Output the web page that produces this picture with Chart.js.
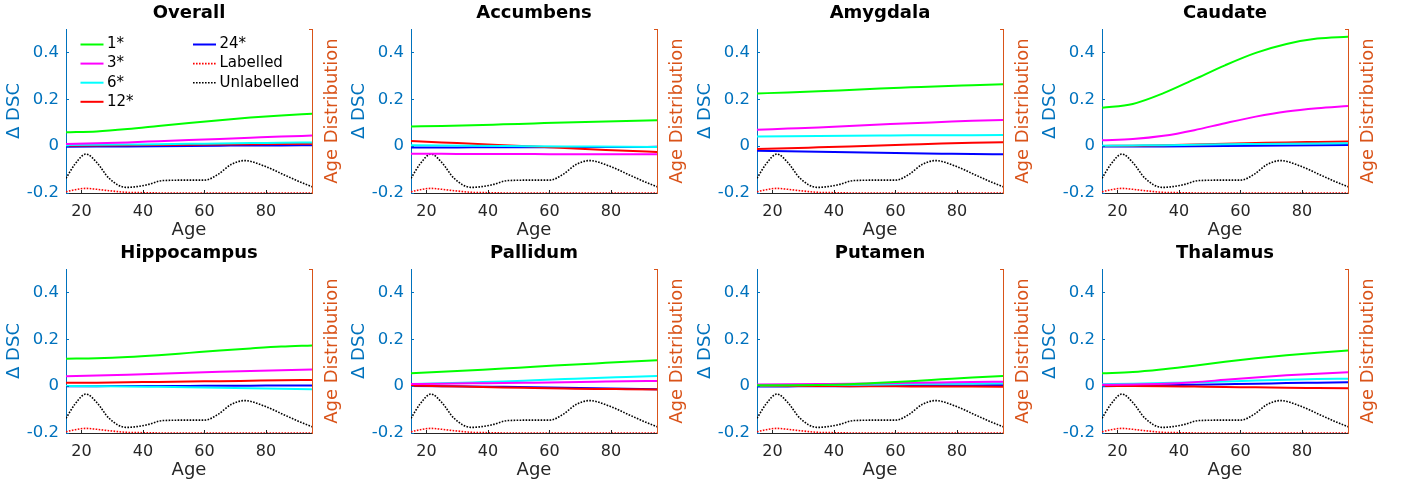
<!DOCTYPE html>
<html>
<head>
<meta charset="utf-8">
<script src="https://cdn.jsdelivr.net/npm/chart.js@4/dist/chart.umd.min.js"></script>
<style>
  body { margin: 0; background: #fff; }
  #grid { position: relative; width: 1403px; height: 485px; }
  #grid canvas { position: absolute; }
</style>
</head>
<body>
<div id="grid"></div>
<script>
// ages where the fitted DSC-difference curves are sampled
const ages = [15, 25, 35, 45, 55, 65, 75, 85, 95];
const ageTicks = [20, 40, 60, 80];
const dscTicks = [-0.2, 0, 0.2, 0.4];

// age distribution of the training sets (kernel density estimates)
const densityAges = [15, 18, 21.5, 25, 29, 34.5, 41, 46.5, 54, 60, 64.5, 68.5, 73, 79.5, 86, 91, 95];
const labelledDensity = [0.0009, 0.0024, 0.0034, 0.0027, 0.0017, 0.0005, 0.0002, 0, 0, 0, 0, 0, 0, 0, 0, 0, 0];
const unlabelledDensity = [0.0108, 0.0214, 0.0285, 0.0223, 0.0108, 0.0041, 0.0058, 0.0091, 0.0094, 0.0094, 0.0137, 0.0206, 0.0237, 0.0197, 0.0132, 0.0082, 0.0046];

const models = ['1*', '3*', '6*', '12*', '24*'];
const modelColors = ['#00ff00', '#ff00ff', '#00ffff', '#ff0000', '#0000ff'];
const regions = ['Overall', 'Accumbens', 'Amygdala', 'Caudate', 'Hippocampus', 'Pallidum', 'Putamen', 'Thalamus'];

// one row per model (1*, 3*, 6*, 12*, 24*), one value per entry of ages
const overall = [
  [0.059, 0.063, 0.073, 0.086, 0.099, 0.111, 0.122, 0.131, 0.138],
  [0.009, 0.012, 0.016, 0.021, 0.026, 0.031, 0.036, 0.041, 0.045],
  [0.005, 0.006, 0.007, 0.008, 0.010, 0.011, 0.013, 0.014, 0.016],
  [0.002, 0.003, 0.004, 0.005, 0.006, 0.007, 0.008, 0.009, 0.010],
  [-0.003, -0.002, -0.001, 0.000, 0.001, 0.002, 0.003, 0.003, 0.004]
];
const accumbens = [
  [0.084, 0.086, 0.089, 0.093, 0.097, 0.101, 0.104, 0.107, 0.110],
  [-0.033, -0.033, -0.034, -0.034, -0.034, -0.035, -0.035, -0.035, -0.035],
  [0.004, 0.003, 0.002, 0.001, 0.000, -0.001, -0.002, -0.003, -0.004],
  [0.022, 0.016, 0.010, 0.004, -0.002, -0.008, -0.014, -0.020, -0.025],
  [-0.006, -0.006, -0.005, -0.005, -0.005, -0.004, -0.004, -0.004, -0.003]
];
const amygdala = [
  [0.225, 0.229, 0.234, 0.240, 0.246, 0.251, 0.256, 0.260, 0.264],
  [0.070, 0.075, 0.080, 0.086, 0.092, 0.098, 0.103, 0.108, 0.112],
  [0.041, 0.042, 0.043, 0.044, 0.045, 0.046, 0.046, 0.047, 0.048],
  [-0.012, -0.009, -0.005, -0.001, 0.003, 0.007, 0.011, 0.014, 0.017],
  [-0.020, -0.022, -0.024, -0.026, -0.028, -0.030, -0.032, -0.034, -0.035]
];
const caudate = [
  [0.164, 0.180, 0.226, 0.285, 0.345, 0.398, 0.436, 0.459, 0.467],
  [0.025, 0.030, 0.044, 0.068, 0.098, 0.126, 0.148, 0.162, 0.171],
  [0.002, 0.003, 0.004, 0.006, 0.008, 0.009, 0.010, 0.011, 0.012],
  [0.001, 0.002, 0.004, 0.007, 0.010, 0.013, 0.016, 0.018, 0.020],
  [-0.002, -0.002, -0.001, 0.000, 0.001, 0.002, 0.003, 0.004, 0.005]
];
const hippocampus = [
  [0.117, 0.119, 0.124, 0.132, 0.142, 0.152, 0.161, 0.169, 0.174],
  [0.042, 0.045, 0.049, 0.053, 0.057, 0.061, 0.065, 0.068, 0.071],
  [0.001, 0.000, -0.001, -0.003, -0.005, -0.007, -0.009, -0.011, -0.013],
  [0.014, 0.015, 0.017, 0.018, 0.020, 0.021, 0.023, 0.025, 0.026],
  [0.000, 0.000, 0.001, 0.001, 0.001, 0.002, 0.002, 0.003, 0.003]
];
const pallidum = [
  [0.055, 0.061, 0.068, 0.075, 0.083, 0.090, 0.097, 0.104, 0.110],
  [0.009, 0.010, 0.012, 0.013, 0.015, 0.017, 0.019, 0.021, 0.022],
  [0.009, 0.012, 0.016, 0.020, 0.025, 0.030, 0.035, 0.039, 0.043],
  [0.002, 0.000, -0.003, -0.006, -0.008, -0.010, -0.012, -0.013, -0.014],
  [0.001, 0.000, -0.001, -0.003, -0.005, -0.007, -0.009, -0.011, -0.013]
];
const putamen = [
  [0.004, 0.004, 0.005, 0.008, 0.014, 0.021, 0.029, 0.037, 0.043],
  [0.007, 0.008, 0.009, 0.010, 0.012, 0.014, 0.016, 0.018, 0.019],
  [0.003, 0.004, 0.005, 0.006, 0.007, 0.009, 0.010, 0.011, 0.012],
  [0.001, 0.001, 0.001, 0.000, 0.000, -0.001, -0.001, -0.002, -0.003],
  [-0.002, -0.001, 0.000, 0.000, 0.001, 0.002, 0.003, 0.003, 0.004]
];
const thalamus = [
  [0.055, 0.060, 0.072, 0.087, 0.104, 0.119, 0.132, 0.143, 0.152],
  [0.006, 0.007, 0.010, 0.017, 0.027, 0.037, 0.046, 0.053, 0.059],
  [0.008, 0.010, 0.013, 0.016, 0.020, 0.024, 0.027, 0.030, 0.032],
  [0.001, 0.001, 0.000, -0.002, -0.004, -0.005, -0.007, -0.008, -0.009],
  [0.000, 0.002, 0.004, 0.006, 0.008, 0.010, 0.013, 0.015, 0.017]
];
const regionDsc = [overall, accumbens, amygdala, caudate, hippocampus, pallidum, putamen, thalamus];

const BLUE = '#0072bd';
const ORANGE = '#d95319';
const DARK = '#262626';
const colLeft = [0, 345, 691, 1036];

Chart.defaults.font.family = "'DejaVu Sans', sans-serif";

// small inward tick marks and the right-hand axis label (reads bottom to top)
const axisExtras = {
  id: 'axisExtras',
  afterDatasetsDraw(chart) {
    const { ctx, chartArea: a, scales: { x, y } } = chart;
    ctx.save();
    ctx.lineWidth = 1;
    ctx.strokeStyle = DARK;
    ctx.beginPath();
    x.ticks.forEach(t => {
      const px = Math.round(x.getPixelForValue(t.value)) + 0.5;
      ctx.moveTo(px, a.bottom);
      ctx.lineTo(px, a.bottom - 3);
    });
    ctx.stroke();
    ctx.strokeStyle = BLUE;
    ctx.beginPath();
    y.ticks.forEach(t => {
      const py = Math.round(y.getPixelForValue(t.value)) + 0.5;
      ctx.moveTo(a.left, py);
      ctx.lineTo(a.left + 3, py);
    });
    ctx.stroke();
    ctx.strokeStyle = ORANGE;
    ctx.beginPath();
    ctx.moveTo(a.right, a.top + 0.5);
    ctx.lineTo(a.right - 3, a.top + 0.5);
    ctx.stroke();

    ctx.translate(a.right + 20, (a.top + a.bottom) / 2);
    ctx.rotate(-Math.PI / 2);
    ctx.fillStyle = ORANGE;
    ctx.font = "18px 'DejaVu Sans'";
    ctx.textAlign = 'center';
    ctx.textBaseline = 'middle';
    ctx.fillText('Age Distribution', 0, 0);
    ctx.restore();
  }
};

// two-column legend drawn inside the first panel
const insideLegend = {
  id: 'insideLegend',
  afterDatasetsDraw(chart) {
    const { ctx, chartArea: a } = chart;
    ctx.save();
    ctx.font = "15px 'DejaVu Sans'";
    ctx.textBaseline = 'middle';
    ctx.fillStyle = '#000';
    chart.data.datasets.forEach((ds, i) => {
      const col = i < 4 ? 0 : 1;
      const row = i < 4 ? i : i - 4;
      const x0 = a.left + (col ? 127 : 14.5);
      const yy = a.top + 15.5 + row * 19.1;
      ctx.strokeStyle = ds.borderColor;
      ctx.lineWidth = ds.borderWidth;
      ctx.setLineDash(ds.borderDash || []);
      ctx.beginPath();
      ctx.moveTo(x0, yy);
      ctx.lineTo(x0 + 23, yy);
      ctx.stroke();
      ctx.fillText(ds.label, x0 + 26.5, yy);
    });
    ctx.restore();
  }
};

const grid = document.getElementById('grid');

regions.forEach((name, i) => {
  const col = i % 4;
  const row = Math.floor(i / 4);
  const canvas = document.createElement('canvas');
  canvas.width = 345;
  canvas.height = 242;
  canvas.style.left = colLeft[col] + 'px';
  canvas.style.top = (row * 240) + 'px';
  grid.appendChild(canvas);

  const dsc = regionDsc[i];
  const datasets = models.map((m, k) => ({
    label: m,
    data: ages.map((age, j) => ({ x: age, y: dsc[k][j] })),
    borderColor: modelColors[k],
    borderWidth: 2,
    yAxisID: 'y'
  }));
  datasets.push({
    label: 'Labelled',
    data: densityAges.map((age, j) => ({ x: age, y: labelledDensity[j] })),
    borderColor: '#ff0000',
    borderWidth: 1.6,
    borderDash: [1.6, 1.4],
    yAxisID: 'y2'
  });
  datasets.push({
    label: 'Unlabelled',
    data: densityAges.map((age, j) => ({ x: age, y: unlabelledDensity[j] })),
    borderColor: '#000000',
    borderWidth: 1.6,
    borderDash: [1.6, 1.4],
    yAxisID: 'y2'
  });

  new Chart(canvas.getContext('2d'), {
    type: 'line',
    data: { datasets },
    plugins: i === 0 ? [axisExtras, insideLegend] : [axisExtras],
    options: {
      responsive: false,
      animation: false,
      events: [],
      elements: {
        point: { radius: 0 },
        line: { cubicInterpolationMode: 'monotone' }
      },
      plugins: {
        legend: { display: false },
        tooltip: { enabled: false },
        title: {
          display: true,
          fullSize: false,
          text: name,
          color: '#000',
          font: { size: 18, weight: 'bold' },
          padding: { top: 3, bottom: 4.4 }
        }
      },
      scales: {
        x: {
          type: 'linear',
          min: 15,
          max: 95,
          afterBuildTicks: s => { s.ticks = ageTicks.map(v => ({ value: v })); },
          afterFit: s => { s.height = 49; },
          grid: { display: false, drawTicks: false },
          border: { color: DARK },
          ticks: { color: DARK, font: { size: 16 }, padding: 9 },
          title: { display: true, text: 'Age', color: DARK, font: { size: 18 }, padding: { top: 0, bottom: 1 } }
        },
        y: {
          position: 'left',
          min: -0.2,
          max: 0.5,
          afterBuildTicks: s => { s.ticks = dscTicks.map(v => ({ value: v })); },
          afterFit: s => { s.width = 66; },
          grid: { display: false, drawTicks: false },
          border: { color: BLUE },
          ticks: { color: BLUE, font: { size: 16.5 }, padding: 7, callback: v => v === 0 ? '0' : v.toFixed(1) },
          title: { display: true, text: 'Δ DSC', color: BLUE, font: { size: 18 }, padding: { top: 4, bottom: 0 } }
        },
        y2: {
          position: 'right',
          min: 0,
          max: 0.12,
          afterFit: s => { s.width = 33; },
          grid: { display: false, drawTicks: false },
          border: { color: ORANGE },
          ticks: { display: false }
        }
      }
    }
  });
});
</script>
</body>
</html>
